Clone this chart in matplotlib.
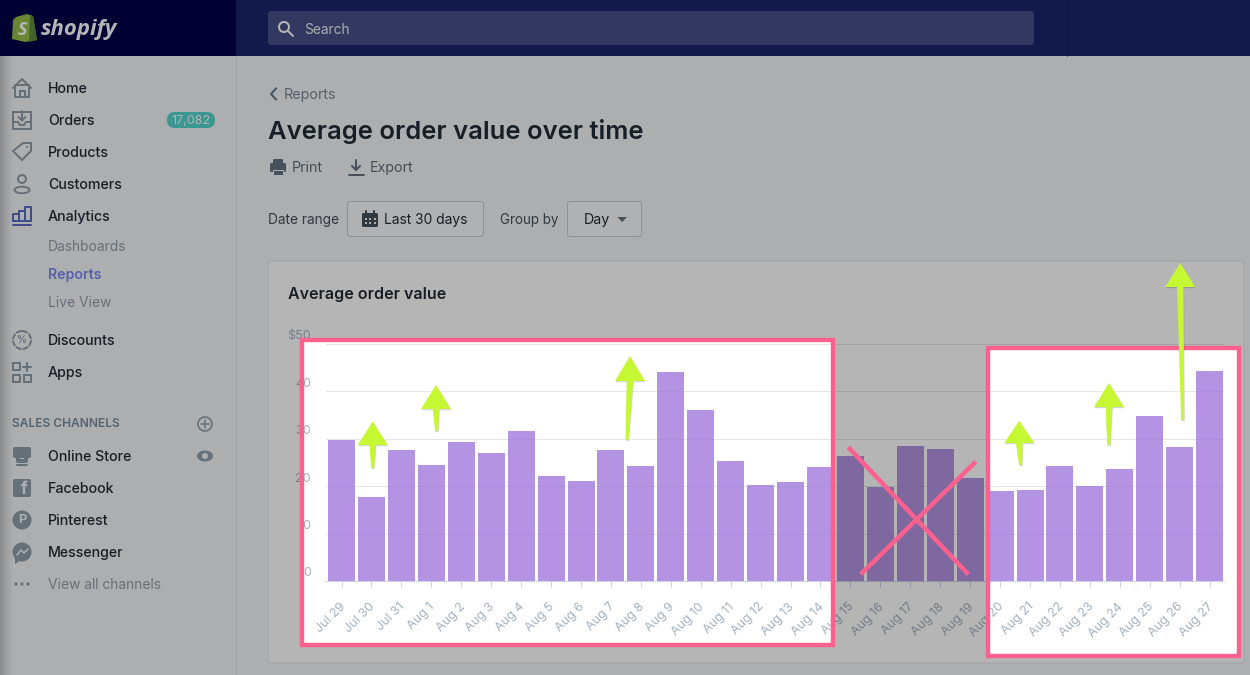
import numpy as np
import matplotlib
matplotlib.use("Agg")
import matplotlib.pyplot as plt
from matplotlib.patches import FancyBboxPatch, Rectangle, Polygon, Circle, PathPatch, Ellipse
from matplotlib.path import Path
from matplotlib.transforms import ScaledTranslation

# ---------- data ----------
days = ["Jul 29", "Jul 30", "Jul 31", "Aug 1", "Aug 2", "Aug 3", "Aug 4", "Aug 5", "Aug 6", "Aug 7",
        "Aug 8", "Aug 9", "Aug 10", "Aug 11", "Aug 12", "Aug 13", "Aug 14", "Aug 15", "Aug 16", "Aug 17",
        "Aug 18", "Aug 19", "Aug 20", "Aug 21", "Aug 22", "Aug 23", "Aug 24", "Aug 25", "Aug 26", "Aug 27"]
order_value = [29.7, 17.7, 27.6, 24.5, 29.3, 27.0, 31.6, 22.2, 21.1, 27.6,
               24.3, 44.1, 36.1, 25.3, 20.3, 20.9, 24.0, 26.4, 19.8, 28.5,
               27.8, 21.7, 19.0, 19.2, 24.3, 20.0, 23.6, 34.8, 28.3, 44.3]
y_ticks = [0, 10, 20, 30, 40, 50]
y_labels = ["0", "10", "20", "30", "40", "$50"]
nav_main = [("Home", 88), ("Orders", 120), ("Products", 152), ("Customers", 184), ("Analytics", 216),
            ("Discounts", 340), ("Apps", 372), ("Online Store", 456), ("Facebook", 488),
            ("Pinterest", 520), ("Messenger", 552)]
nav_sub = [("Dashboards", 246), ("Live View", 302), ("View all channels", 584)]

W, H = 1250, 675
plt.rcParams["font.family"] = ["Inter", "DejaVu Sans"]
fig = plt.figure(figsize=(12.5, 6.75), dpi=100)
PX = 0.72  # points per pixel

def layer(z):
    a = fig.add_axes([0, 0, 1, 1], zorder=z)
    a.set_xlim(0, W); a.set_ylim(H, 0); a.axis("off")
    return a

bg = layer(0)
TEXT, MUTED, ICON = "#212b36", "#919eab", "#919eab"
PAGE = "#f4f6f8"

def txt(x, y, s, px=14, c=TEXT, w="normal", **kw):
    kw.setdefault("ha", "left")
    bg.text(x, y + 1, s, fontsize=px * PX, color=c, fontweight=w, va="center", **kw)

def rrect(ax, x0, y0, x1, y1, r=3, fc="white", ec="none", lw=1, z=1):
    ax.add_patch(FancyBboxPatch((x0, y0), x1 - x0, y1 - y0, boxstyle=f"round,pad=0,rounding_size={r}",
                                fc=fc, ec=ec, lw=lw * PX, zorder=z))

def ln(xs, ys, c=ICON, lw=2, z=3, cap="round"):
    bg.plot(xs, ys, color=c, lw=lw * PX, zorder=z, solid_capstyle=cap, solid_joinstyle="round")

# page
bg.add_patch(Rectangle((0, 0), W, H, fc=PAGE, ec="none", zorder=0))
bg.add_patch(Rectangle((0, 0), 236, 56, fc="#000048", ec="none", zorder=1))
bg.add_patch(Rectangle((236, 0), W - 236, 56, fc="#19256b", ec="none", zorder=1))
ln([1067, 1067], [0, 56], c="#10194f", lw=1, cap="butt")
ln([235.5, 235.5], [56, H], c="#dfe3e8", lw=1, cap="butt")
rrect(bg, 268, 11, 1034, 45, r=3, fc="#494f89", z=2)
bg.add_patch(Circle((284, 27), 5, fc="none", ec="white", lw=2 * PX, zorder=3))
ln([288, 293], [31, 36], c="white", lw=2)
txt(304, 29, "Search", 13.7, "#f2f3f8")

# logo
bg.add_patch(Polygon([[13, 20], [16, 17], [27, 14], [33, 16], [37, 40], [25, 42], [12, 39]],
                     fc="#95bf47", ec="none", zorder=3))
bg.add_patch(Polygon([[30, 15], [33, 16], [37, 40], [29, 42]], fc="#5e8e3e", ec="none", zorder=3))
txt(18, 29, "S", 18, "white", "bold", style="italic", family="Open Sans", zorder=4)
txt(41, 29, "shopify", 22.2, "white", "bold", style="italic", family="Open Sans")

# nav text
for s, y in nav_main:
    txt(48, y, s, 14.2, TEXT, 500)
for s, y in nav_sub:
    txt(48, y, s, 13.8, MUTED)
txt(48, 274, "Reports", 14.2, "#7887f0", 600)
txt(12, 423, "SALES CHANNELS", 12, "#798c9c", 600)

# nav icons
ln([13, 22, 31], [88, 79, 88]); ln([15, 15, 29, 29, 15], [85, 97, 97, 85, 85]); ln([19.5, 19.5, 24.5, 24.5], [97, 91, 91, 97])
ln([13, 13, 31, 31, 13], [112, 129, 129, 112, 112]); ln([13, 18, 20, 24, 26, 31], [122, 122, 125, 125, 122, 122]); ln([22, 22], [111, 120]); ln([18.5, 22, 25.5], [117, 120.5, 117])
bg.add_patch(Polygon([[13, 151], [23, 143], [31, 143], [31, 151], [22, 160]], fc="none", ec=ICON, lw=2 * PX, zorder=3))
bg.add_patch(Circle((27, 147), 1, fc=ICON, ec="none", zorder=3))
bg.add_patch(Circle((22, 179), 4, fc="none", ec=ICON, lw=2 * PX, zorder=3))
bg.add_patch(Ellipse((22, 190), 15, 6.5, fc="none", ec=ICON, lw=2 * PX, zorder=3))
BLUE = "#5c6ac4"
ln([13, 13, 19, 19, 13], [221, 214, 214, 221, 221], c=BLUE); ln([19, 19, 25, 25, 19], [221, 211, 211, 221, 221], c=BLUE)
ln([25, 25, 31, 31, 25], [221, 207, 207, 221, 221], c=BLUE); ln([13, 31], [225, 225], c=BLUE)
bg.add_patch(Circle((22, 340), 9, fc="none", ec=ICON, lw=2 * PX, ls=(0, (3, .6)), zorder=3))
txt(22, 339, "%", 10, ICON, 600, ha="center", zorder=4)
for x0, y0 in [(13, 363), (13, 375), (24, 375)]:
    ln([x0, x0, x0 + 7, x0 + 7, x0], [y0, y0 + 7, y0 + 7, y0, y0])
ln([23, 31], [367, 367]); ln([27, 27], [363, 371])
bg.add_patch(Circle((205, 424), 7, fc="none", ec=ICON, lw=1.6 * PX, zorder=3))
ln([201, 209], [424, 424], lw=1.6); ln([205, 205], [420, 428], lw=1.6)
bg.add_patch(Ellipse((205, 456), 16, 11, fc=ICON, ec="none", zorder=3))
bg.add_patch(Circle((205, 456), 3, fc=PAGE, ec="none", zorder=4))
rrect(bg, 13, 447, 31, 458, r=2, fc=ICON, z=3)
ln([18, 18, 26, 26], [458, 461, 461, 458], lw=4); ln([17, 27], [465, 465], lw=2)
rrect(bg, 13, 479, 31, 497, r=2, fc=ICON, z=3)
txt(24, 489, "f", 17, PAGE, "bold", ha="center", zorder=4)
bg.add_patch(Circle((22, 520), 9.5, fc=ICON, ec="none", zorder=3))
txt(22, 519, "P", 13, PAGE, "bold", ha="center", zorder=4)
bg.add_patch(Circle((22, 552), 9.5, fc=ICON, ec="none", zorder=3))
bg.add_patch(Polygon([[15, 557], [15, 564], [21, 560]], fc=ICON, ec="none", zorder=3))
ln([17, 21, 24, 28], [555, 550, 553, 549], c=PAGE, lw=1.6, z=4)
for x in (16, 22, 28):
    bg.add_patch(Circle((x, 584), 1.6, fc=ICON, ec="none", zorder=3))

# badge
rrect(bg, 167, 112, 215, 128, r=8, fc="#52d5cf", z=2)
txt(191, 119.5, "17,082", 12.5, "white", ha="center", zorder=3)

# header content
bg.plot([276, 271, 276], [88.5, 94, 99.5], color="#637381", lw=2 * PX, zorder=3)
txt(284, 94, "Reports", 14.3, "#798794")
txt(268, 131, "Average order value over time", 25.6, TEXT, 600)
rrect(bg, 273, 159, 283, 164, r=1, fc="#637381", z=3)
rrect(bg, 270, 163, 286, 172, r=1.5, fc="#637381", z=3)
bg.add_patch(Rectangle((273, 170), 10, 5, fc="#637381", ec=PAGE, lw=PX, zorder=4))
txt(292, 167, "Print", 14.3, "#5f6d7a")
ln([356, 356], [160, 170], c="#637381"); ln([352, 356, 360], [166, 170, 166], c="#637381"); ln([348.5, 363.5], [174.5, 174.5], c="#637381")
txt(370, 167, "Export", 14.3, "#5f6d7a")
txt(268, 219, "Date range", 13.7, "#454f5b")
txt(500, 219, "Group by", 13.5, "#454f5b")
for x0, x1 in [(347.5, 483.5), (567.5, 641.5)]:
    rrect(bg, x0, 201.5, x1, 236.5, r=3, fc="#f9fafb", ec="#c4cdd5", z=2)
rrect(bg, 362, 213, 378, 227, r=1.5, fc="#454f5b", z=3)
ln([366, 366], [211, 214], c="#454f5b"); ln([374, 374], [211, 214], c="#454f5b")
for gx in (365.5, 370, 374.5):
    for gy in (219, 223):
        bg.add_patch(Rectangle((gx - 1, gy - 1), 2, 2, fc=PAGE, ec="none", zorder=4))
txt(384, 219, "Last 30 days", 13.8, TEXT)
txt(584, 219, "Day", 14.3, TEXT)
bg.add_patch(Polygon([[617.5, 217], [627, 217], [622.2, 222]], fc="#637381", ec="none", zorder=3))

# card
rrect(bg, 268, 261, 1244, 663, r=3, fc="white", ec="#e3e6e9", z=1)
txt(288, 293, "Average order value", 16, TEXT, 600)

# ---------- chart ----------
L, R, T, B = 326, 1224, 344, 581
ax = fig.add_axes([L / W, 1 - B / H, (R - L) / W, (B - T) / H], zorder=1)
ax.patch.set_visible(False)
x = np.arange(len(days))
ax.bar(x, order_value, width=0.9, color="#a078db", alpha=0.8, linewidth=0, zorder=2)
ax.set_xlim(-0.52, 29.48)
ax.set_ylim(0, 50)
ax.set_yticks(y_ticks, y_labels)
ax.set_xticks(x, days)
ax.grid(axis="y", color="#e5e6ea", lw=1 * PX, zorder=1)
ax.set_axisbelow(True)
for s in ("top", "left", "right"):
    ax.spines[s].set_visible(False)
ax.spines["bottom"].set_color("#ccd2e8")
ax.spines["bottom"].set_linewidth(1 * PX)
ax.tick_params(axis="y", length=0, pad=15 * PX, labelsize=12.5 * PX, labelcolor="#a3b1c0")
ax.tick_params(axis="x", length=4, width=1 * PX, color="#ccd2e8", pad=14 * PX,
               labelsize=12.5 * PX, labelcolor="#a3b1c0")
xshift = ScaledTranslation(-2.5 / 100, 0, fig.dpi_scale_trans)
for lab in ax.get_xticklabels():
    lab.set(rotation=45, ha="right", va="top", rotation_mode="anchor")
    lab.set_transform(lab.get_transform() + xshift)
shift = ScaledTranslation(0, 9 / 100, fig.dpi_scale_trans)
for lab in ax.get_yticklabels():
    lab.set_transform(lab.get_transform() + shift)

# ---------- dim overlay with two cut-outs, annotations ----------
top = layer(2)
hole1 = (304, 342, 831, 642.5)
hole2 = (990, 350, 1237, 654)

def rect_path(x0, y0, x1, y1, flip=False):
    pts = [(x0, y0), (x1, y0), (x1, y1), (x0, y1), (x0, y0)]
    return pts[::-1] if flip else pts

verts, codes = [], []
for pts in (rect_path(0, 0, W, H), rect_path(*hole1, flip=True), rect_path(*hole2, flip=True)):
    verts += pts
    codes += [Path.MOVETO, Path.LINETO, Path.LINETO, Path.LINETO, Path.CLOSEPOLY]
top.add_patch(PathPatch(Path(verts, codes), fc="black", alpha=0.29, ec="none", zorder=1))

grad = np.zeros((1, 40, 4))
grad[0, :, 3] = np.linspace(0.3, 0, 40) ** 1.3
top.imshow(grad, extent=(0, 14, H, 56), aspect="auto", zorder=2, interpolation="bilinear")
top.set_xlim(0, W); top.set_ylim(H, 0)

PINK = "#fc608e"
for (x0, y0, x1, y1) in (hole1, hole2):
    top.add_patch(Rectangle((x0 - 2.2, y0 - 2.2), x1 - x0 + 4.4, y1 - y0 + 4.4, fc="none", ec=PINK,
                            lw=4.4 * PX, joinstyle="miter", zorder=3))
for (x0, y0, x1, y1) in [(848.3, 447.3, 968.3, 574.3), (975.7, 461.7, 860.7, 574.3)]:
    top.plot([x0, x1], [y0, y1], color=PINK, lw=4.5 * PX, solid_capstyle="butt", zorder=4)

LIME = "#c5f733"
arrows = [(372.7, 421.5, 445, 372.7, 468), (436, 385, 409, 436.7, 431), (630, 356, 381, 627, 440),
          (1019.3, 420.7, 443, 1020.7, 465), (1109, 383, 407, 1108.7, 445), (1180.3, 263, 287, 1182.7, 420)]
for tx, ty, by, ex, ey in arrows:
    pts = [(tx, ty), (tx + 15, by), (tx + 3.3, by), (ex + 1.5, ey), (ex - 1.5, ey), (tx - 3.3, by), (tx - 15, by)]
    top.add_patch(Polygon([(a + 0.5, b + 1.2) for a, b in pts], fc="black", alpha=0.16, ec="none", zorder=5))
    top.add_patch(Polygon(pts, fc=LIME, ec="none", zorder=6))

fig.savefig("out.png", dpi=100)
